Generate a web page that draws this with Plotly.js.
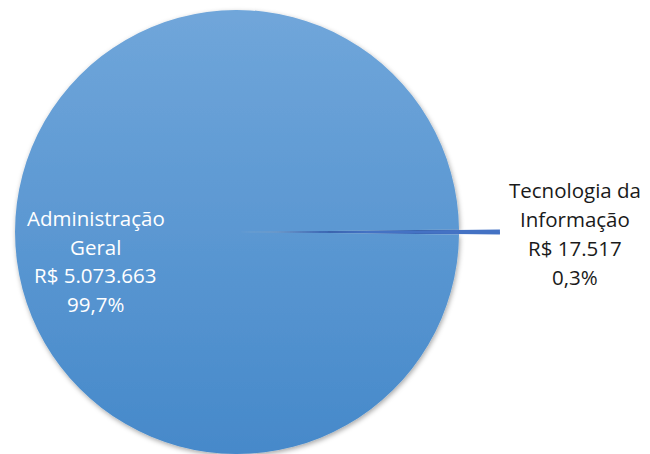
<!DOCTYPE html>
<html><head><meta charset="utf-8">
<script src="https://cdn.plot.ly/plotly-3.0.1.min.js"></script>
<style>html,body{margin:0;padding:0;background:#fff}#chart{width:650px;height:454px}</style>
</head><body><div id="chart"></div>
<script>
const categories = ['Tecnologia da Informação', 'Administração Geral'];
const categoryLines = [['Tecnologia da', 'Informação'], ['Administração', 'Geral']];
const values = [17517, 5073663];
const percentLabels = ['0,3%', '99,7%'];

function fmtBR(n){ return String(n).replace(/\B(?=(\d{3})+(?!\d))/g, '.'); }

const total = values.reduce((a,b)=>a+b,0);
const tiShareDeg = values[0]/total*360;
const rot = 90 - tiShareDeg/2;

// main pie
const trace = {
  type: 'pie',
  labels: categories,
  values: values,
  sort: false,
  direction: 'clockwise',
  rotation: rot,
  textinfo: 'none',
  hoverinfo: 'label+value+percent',
  marker: {colors: ['#4472c4', '#5b9bd5'], line: {width: 0}},
  domain: {x: [0.0231, 0.7062], y: [0.0, 0.978]},
  showlegend: false
};
// exploded small slice (same data, big slice hidden)
const traceExploded = {
  type: 'pie',
  labels: categories,
  values: values,
  sort: false,
  direction: 'clockwise',
  rotation: rot,
  textinfo: 'none',
  hoverinfo: 'skip',
  marker: {colors: ['#4472c4', 'rgba(0,0,0,0)'], line: {width: 0}},
  domain: {x: [0.0862, 0.7692], y: [0.0, 0.978]},
  showlegend: false
};

const labelSpecs = [
  {x: 0.884, y0: 0.5815, step: 0.0639, color: '#1a1a1a'},
  {x: 0.147, y0: 0.5198, step: 0.0628, color: '#ffffff'}
];
const annotations = [];
categories.forEach((c, i) => {
  const lines = categoryLines[i].concat(['R$ ' + fmtBR(values[i]), percentLabels[i]]);
  lines.forEach((t, j) => {
    annotations.push({
      text: t, x: labelSpecs[i].x, y: labelSpecs[i].y0 - j*labelSpecs[i].step,
      xref: 'paper', yref: 'paper', showarrow: false,
      xanchor: 'center', yanchor: 'middle',
      font: {family: 'Open Sans, sans-serif', size: 20.5, color: labelSpecs[i].color}
    });
  });
});

const layout = {
  width: 650, height: 454,
  margin: {l: 0, r: 0, t: 0, b: 0},
  paper_bgcolor: '#ffffff',
  annotations: annotations
};

Plotly.newPlot('chart', [trace, traceExploded], layout, {displayModeBar: false, staticPlot: true}).then(() => {
  const svg = document.querySelector('#chart .main-svg');
  const ns = 'http://www.w3.org/2000/svg';
  let defs = svg.querySelector('defs');
  if (!defs) { defs = document.createElementNS(ns, 'defs'); svg.insertBefore(defs, svg.firstChild); }
  const g = document.createElementNS(ns, 'linearGradient');
  g.setAttribute('id', 'pieGrad'); g.setAttribute('x1', '0'); g.setAttribute('y1', '0'); g.setAttribute('x2', '0'); g.setAttribute('y2', '1');
  [['0', '#70a6da'], ['1', '#4689ca']].forEach(([o, c]) => {
    const s = document.createElementNS(ns, 'stop'); s.setAttribute('offset', o); s.setAttribute('stop-color', c); g.appendChild(s);
  });
  defs.appendChild(g);
  const f = document.createElementNS(ns, 'filter');
  f.setAttribute('id', 'pieShadow'); f.setAttribute('x', '-10%'); f.setAttribute('y', '-10%'); f.setAttribute('width', '120%'); f.setAttribute('height', '120%');
  const ds = document.createElementNS(ns, 'feDropShadow');
  ds.setAttribute('dx', '1'); ds.setAttribute('dy', '2'); ds.setAttribute('stdDeviation', '2.5');
  ds.setAttribute('flood-color', '#000'); ds.setAttribute('flood-opacity', '0.35');
  f.appendChild(ds); defs.appendChild(f);
  const traces = document.querySelectorAll('#chart .pielayer .trace');
  if (traces[0]) {
    const sl = traces[0].querySelectorAll('.slice path.surface');
    if (sl[1]) { sl[1].style.fill = 'url(#pieGrad)'; sl[1].setAttribute('filter', 'url(#pieShadow)'); }
  }
});
</script></body></html>
